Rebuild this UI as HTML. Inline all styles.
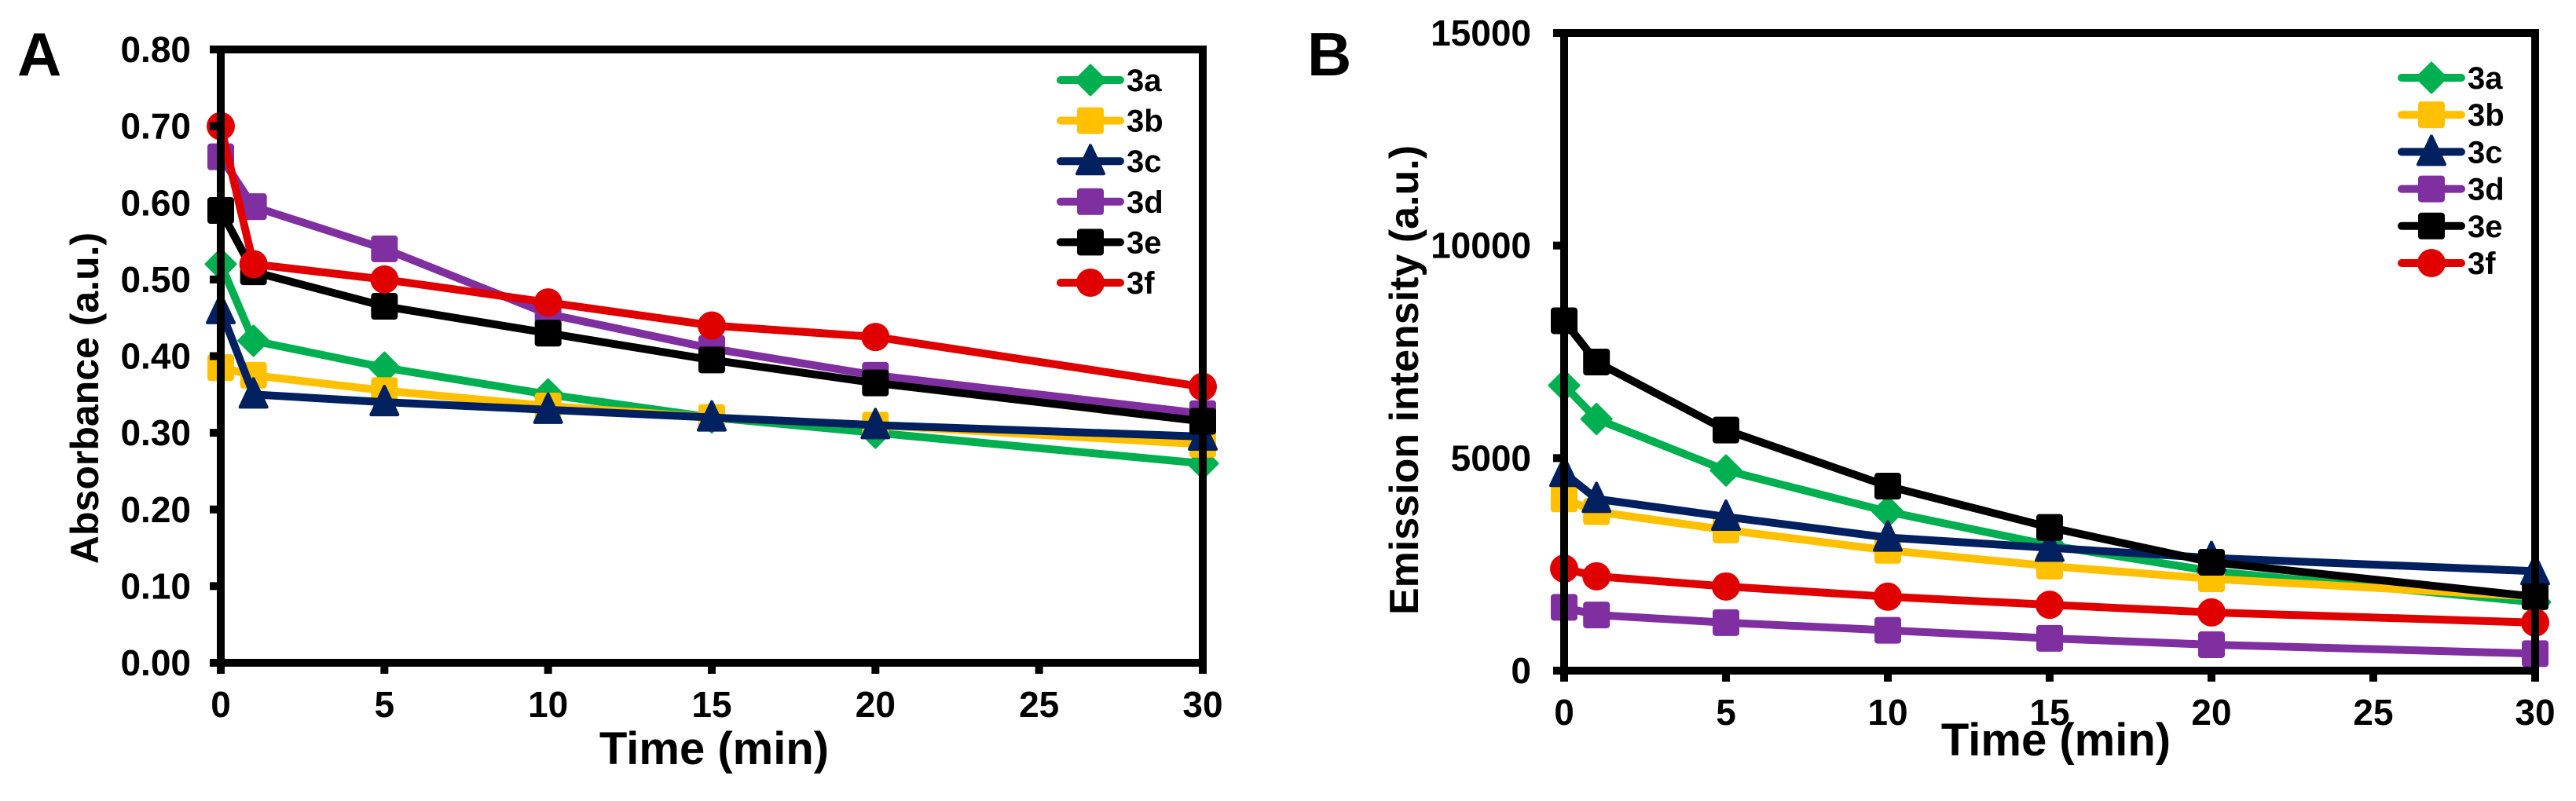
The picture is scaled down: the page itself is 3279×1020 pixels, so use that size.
<!DOCTYPE html>
<html><head><meta charset="utf-8">
<style>
html,body{margin:0;padding:0;background:#fff;}
svg{display:block;}
text{font-family:"Liberation Sans",Arial,sans-serif;font-weight:bold;fill:#000;}
.n{font-family:"Liberation Sans Narrow","Liberation Sans",sans-serif;}
</style></head>
<body>
<svg id="chart" width="3279" height="1020" viewBox="0 0 3279 1020" xmlns="http://www.w3.org/2000/svg"></svg>
<script>
const times = [0, 1, 5, 10, 15, 20, 30];
const seriesNames = ["3a", "3b", "3c", "3d", "3e", "3f"];
const absA3a = [0.52, 0.42, 0.385, 0.35, 0.32, 0.30, 0.26];
const absA3b = [0.385, 0.375, 0.355, 0.335, 0.32, 0.31, 0.285];
const absA3c = [0.46, 0.35, 0.34, 0.33, 0.32, 0.31, 0.295];
const absA3d = [0.66, 0.595, 0.54, 0.455, 0.41, 0.375, 0.325];
const absA3e = [0.59, 0.51, 0.465, 0.43, 0.395, 0.365, 0.315];
const absA3f = [0.70, 0.52, 0.50, 0.47, 0.44, 0.425, 0.36];
const emB3a = [6710, 5920, 4710, 3740, 2950, 2340, 1610];
const emB3b = [4040, 3740, 3310, 2830, 2460, 2160, 1740];
const emB3c = [4650, 4040, 3620, 3130, 2890, 2650, 2340];
const emB3d = [1490, 1310, 1130, 950, 760, 610, 400];
const emB3e = [8230, 7260, 5660, 4340, 3370, 2550, 1740];
const emB3f = [2400, 2220, 1980, 1740, 1550, 1370, 1130];
const xTicks = [0, 5, 10, 15, 20, 25, 30];
const yTicksA = [0, 0.1, 0.2, 0.3, 0.4, 0.5, 0.6, 0.7, 0.8];
const yTicksB = [0, 5000, 10000, 15000];

const colors = ["#00B050", "#FFC000", "#002060", "#7F2FA0", "#000000", "#E00000"];
const markers = ["diamond", "square", "triangle", "square", "square", "circle"];
const svg = document.getElementById('chart');
const NS = "http://www.w3.org/2000/svg";
function mk(tag, attrs, parent) {
  const e = document.createElementNS(NS, tag);
  for (const k in attrs) e.setAttribute(k, attrs[k]);
  (parent || svg).appendChild(e);
  return e;
}
function marker(g, type, x, y, c) {
  let e;
  if (type === "circle") e = mk('circle', {cx: x, cy: y, r: 18, fill: c}, g);
  else if (type === "square") e = mk('rect', {x: x - 17, y: y - 17, width: 34, height: 34, rx: 4, fill: c}, g);
  else if (type === "diamond") e = mk('polygon', {points: `${x},${y-19} ${x+19},${y} ${x},${y+19} ${x-19},${y}`, fill: c, 'stroke-linejoin': 'round', stroke: c, 'stroke-width': 3}, g);
  else e = mk('polygon', {points: `${x},${y-20} ${x+17},${y+16} ${x-17},${y+16}`, fill: c, stroke: c, 'stroke-width': 4, 'stroke-linejoin': 'round'}, g);
  return e;
}
function panel(cfg) {
  const {left, right, top, bottom, ymax, yTicks, yFmt, data, name, letter, letterX, ylabel, ylabX, ylabY, ylabSize, timeX, timeY, xtickY, legX, legY, legStep, yLabelX} = cfg;
  const xs = v => left + (right - left) * v / 30;
  const ys = v => bottom - (bottom - top) * v / ymax;
  const g = mk('g', {});
  
  
  // series
  data.forEach((arr, i) => {
    const sg = mk('g', {}, g);
    
    
    const pts = arr.map((v, j) => xs(times[j]) + ',' + ys(v)).join(' ');
    const pl = mk('polyline', {points: pts, fill: 'none', stroke: colors[i], 'stroke-width': 10, 'stroke-linejoin': 'round'}, sg);
    
    
    arr.forEach((v, j) => {
      const m = marker(sg, markers[i], xs(times[j]), ys(v), colors[i]);
      
      
    });
  });
  // frame
  const fr = mk('rect', {x: left, y: top, width: right - left, height: bottom - top, fill: 'none', stroke: '#000', 'stroke-width': 10}, g);
  
  
  yTicks.forEach(v => {
    const t = mk('line', {x1: left - 14, x2: left, y1: ys(v), y2: ys(v), stroke: '#000', 'stroke-width': 10}, g);
    
    
    const l = mk('text', {x: yLabelX, y: ys(v) + 16, 'text-anchor': 'end', 'font-size': 46, class: 'n'}, g);
    l.textContent = yFmt(v);
    
    
  });
  xTicks.forEach(v => {
    const t = mk('line', {x1: xs(v), x2: xs(v), y1: bottom, y2: bottom + 14, stroke: '#000', 'stroke-width': 10}, g);
    
    
    const l = mk('text', {x: xs(v), y: xtickY + 16, 'text-anchor': 'middle', 'font-size': 46, class: 'n'}, g);
    l.textContent = v;
    
    
  });
  const xt = mk('text', {x: timeX, y: timeY + 20, 'text-anchor': 'middle', 'font-size': 58, class: 'n'}, g);
  xt.textContent = 'Time (min)';
  
  
  const yt = mk('text', {x: 0, y: 0, 'text-anchor': 'middle', 'font-size': ylabSize, transform: `translate(${ylabX},${ylabY}) rotate(-90)`}, g);
  yt.textContent = ylabel;
  
  
  const lt = mk('text', {x: letterX, y: 96, 'font-size': 78, class: 'n'}, g);
  lt.textContent = letter;
  
  
  // legend
  seriesNames.forEach((s, i) => {
    const lg = mk('g', {}, g);
    
    
    const y = legY + i * legStep;
    mk('line', {x1: legX - 38, x2: legX + 38, y1: y, y2: y, stroke: colors[i], 'stroke-width': 10, 'stroke-linecap': 'round'}, lg);
    marker(lg, markers[i], legX, y, colors[i]);
    const t = mk('text', {x: legX + 46, y: y + 14, 'font-size': 40}, lg);
    t.textContent = s;
  });
}
panel({left: 281, right: 1531, top: 63, bottom: 844, ymax: 0.8, yTicks: yTicksA, yFmt: v => v.toFixed(2),
  data: [absA3a, absA3b, absA3c, absA3d, absA3e, absA3f], name: 'panel-a-absorbance', letter: 'A', letterX: 22,
  ylabel: 'Absorbance (a.u.)', ylabX: 125, ylabY: 507, ylabSize: 50, timeX: 909, timeY: 953, xtickY: 897,
  legX: 1388, legY: 102, legStep: 51.6, yLabelX: 243});
panel({left: 1991, right: 3227, top: 42, bottom: 854, ymax: 15000, yTicks: yTicksB, yFmt: v => String(v),
  data: [emB3a, emB3b, emB3c, emB3d, emB3e, emB3f], name: 'panel-b-emission', letter: 'B', letterX: 1664,
  ylabel: 'Emission intensity (a.u.)', ylabX: 1805, ylabY: 484, ylabSize: 52, timeX: 2617, timeY: 942, xtickY: 907,
  legX: 3095, legY: 99, legStep: 47.2, yLabelX: 1949});
</script>
</body></html>
